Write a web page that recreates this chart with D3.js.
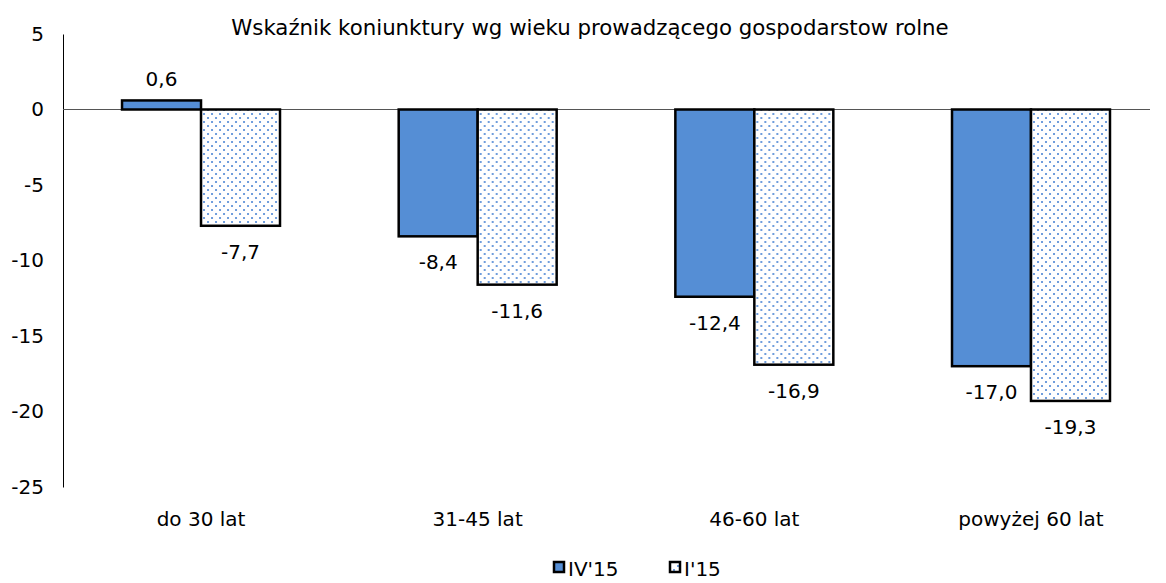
<!DOCTYPE html>
<html><head><meta charset="utf-8">
<script src="https://cdn.jsdelivr.net/npm/d3@7"></script>
<style>body{margin:0;background:#fff}svg{font-family:"DejaVu Sans",Tahoma,sans-serif}</style>
</head><body><svg width="1166" height="583"></svg>
<script>
const categories = ["do 30 lat","31-45 lat","46-60 lat","powyżej 60 lat"];
const seriesNames = ["IV'15","I'15"];
const seriesIV15 = [0.6,-8.4,-12.4,-17.0];
const seriesI15 = [-7.7,-11.6,-16.9,-19.3];
const yTicks = [5,0,-5,-10,-15,-20,-25];
const title = "Wskaźnik koniunktury wg wieku prowadzącego gospodarstow rolne";

const svg = d3.select("svg");
const defs = svg.append("defs");
const pat = defs.append("pattern").attr("id","dots").attr("patternUnits","userSpaceOnUse")
  .attr("width",8).attr("height",8);
pat.append("rect").attr("width",8).attr("height",8).attr("fill","#fff");
pat.append("rect").attr("x",1).attr("y",1).attr("width",2).attr("height",2).attr("fill","#6f9ddc");
pat.append("rect").attr("x",5).attr("y",5).attr("width",2).attr("height",2).attr("fill","#6f9ddc");

const left = 63, right = 1150;
const FS = 20;
const y = d3.scaleLinear().domain([-25,5]).range([487,34]);
const x0 = d3.scaleBand().domain(categories).range([left,right])
  .paddingInner(0.429).paddingOuter(0.179).align(0.596);
const x1 = d3.scaleBand().domain(seriesNames).range([0,x0.bandwidth()]);

const fmt = v => d3.format(".1f")(v).replace(".",",").replace("−","-");

svg.append("text").attr("x",590).attr("y",35).attr("text-anchor","middle")
  .attr("font-size",21.3).text(title);

// y axis
const yAxis = d3.axisLeft(y).tickValues(yTicks).tickSize(0).tickPadding(19).tickFormat(d=>d);
const ga = svg.append("g").attr("transform",`translate(${left},0)`).call(yAxis);
ga.select(".domain").attr("stroke","#000").attr("stroke-width",1);
ga.selectAll("text").attr("font-size",FS).attr("font-family","DejaVu Sans").attr("fill","#000");

// zero line
svg.append("line").attr("x1",left).attr("x2",right).attr("y1",y(0)).attr("y2",y(0))
  .attr("stroke","#555").attr("stroke-width",1);

const data = categories.map((c,i)=>({c, vals:[{s:seriesNames[0],v:seriesIV15[i]},{s:seriesNames[1],v:seriesI15[i]}]}));
const g = svg.selectAll("g.grp").data(data).enter().append("g").attr("class","grp")
  .attr("transform",d=>`translate(${x0(d.c)},0)`);
g.selectAll("rect").data(d=>d.vals).enter().append("rect")
  .attr("x",d=>x1(d.s)).attr("width",x1.bandwidth())
  .attr("y",d=>y(Math.max(0,d.v))).attr("height",d=>Math.abs(y(d.v)-y(0)))
  .attr("fill",d=>d.s===seriesNames[0]?"#558ed5":"url(#dots)")
  .attr("stroke","#000").attr("stroke-width",2.5);
g.selectAll("text.lbl").data(d=>d.vals).enter().append("text").attr("class","lbl")
  .attr("x",d=>x1(d.s)+x1.bandwidth()/2)
  .attr("y",d=>d.v>=0? y(d.v)-14 : y(d.v)+33)
  .attr("text-anchor","middle").attr("font-size",FS).text(d=>fmt(d.v));

// category labels
svg.selectAll("text.cat").data(categories).enter().append("text").attr("class","cat")
  .attr("x",d=>x0(d)+x0.bandwidth()/2).attr("y",526).attr("text-anchor","middle")
  .attr("font-size",FS).text(d=>d);

// legend
const leg = [{s:seriesNames[0],x:554},{s:seriesNames[1],x:670}];
const lg = svg.selectAll("g.leg").data(leg).enter().append("g").attr("class","leg");
lg.append("rect").attr("x",d=>d.x).attr("y",562).attr("width",10).attr("height",10)
  .attr("fill",(d,i)=>i===0?"#558ed5":"url(#dots)").attr("stroke","#000").attr("stroke-width",2.5);
lg.append("text").attr("x",d=>d.x+14).attr("y",576).attr("font-size",FS).text(d=>d.s);
</script></body></html>
